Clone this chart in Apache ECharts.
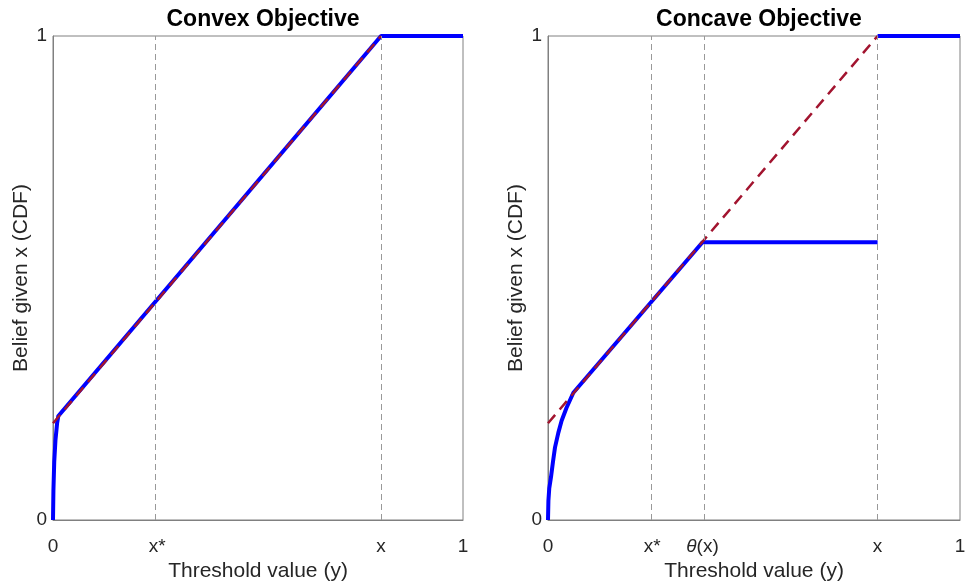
<!DOCTYPE html>
<html><head><meta charset="utf-8">
<script src="https://cdn.jsdelivr.net/npm/echarts@6/dist/echarts.min.js"></script>
<style>html,body{margin:0;padding:0;background:#fff;overflow:hidden}#c{width:965px;height:587px}</style>
</head><body><div id="c"></div>
<script>
// ---- data ----
var titles = ['Convex Objective', 'Concave Objective'];
var xName = 'Threshold value (y)';
var yName = 'Belief given x (CDF)';
// left panel
var leftTickValues = [0, 0.254, 0.8, 1];
var leftTickLabels = ['0', 'x*', 'x', '1'];
var leftVLines = [0.254, 0.8];
var leftBlue = [[0,0],[0.001,0.06],[0.003,0.12],[0.006,0.165],[0.010,0.2],[0.013,0.215],[0.8,1],[1,1]];
var leftRed = [[0,0.2],[0.8,1]];
// right panel
var rightTickValues = [0, 0.253, 0.375, 0.8, 1];
var rightTickLabels = ['0', 'x*', '{i|θ}(x)', 'x', '1'];
var rightVLines = [0.253, 0.375, 0.8];
var rightBlue = [[0,0],[0.001,0.04],[0.003,0.065],[0.0073,0.089],[0.012,0.12],[0.017,0.15],[0.025,0.18],[0.033,0.205],[0.045,0.232],[0.0615,0.263],[0.375,0.574],[0.8,0.574]];
var rightBlueTop = [[0.8,1],[1,1]];
var rightRed = [[0,0.2],[0.8,1]];
var yTickValues = [0, 1];

var FONT = 'Liberation Sans, Arial, sans-serif';
var TXT = '#262626';
var chart = echarts.init(document.getElementById('c'));
function xAx(idx, vals, labels){
  return {type:'value', gridIndex:idx, min:0, max:1, name:xName, nameLocation:'middle', nameGap:37,
    nameTextStyle:{fontFamily:FONT, fontSize:21, color:TXT},
    axisLine:{show:true, lineStyle:{color:'#808080'}}, axisTick:{show:false}, splitLine:{show:false},
    axisLabel:{customValues:vals, margin:17, fontFamily:FONT, fontSize:19, color:TXT,
      formatter:function(v){var k=vals.indexOf(v); return k>=0?labels[k]:'';},
      rich:{i:{fontStyle:'italic', fontFamily:FONT, fontSize:19, color:TXT}}}};
}
function yAx(idx){
  return {type:'value', gridIndex:idx, min:0, max:1, name:yName, nameLocation:'middle', nameGap:21,
    nameTextStyle:{fontFamily:FONT, fontSize:21, color:TXT},
    axisLine:{show:true, lineStyle:{color:'#808080'}}, axisTick:{show:false}, splitLine:{show:false},
    axisLabel:{customValues:yTickValues, margin:6, fontFamily:FONT, fontSize:19, color:TXT}};
}
function vlines(arr){
  return {silent:true, symbol:'none', label:{show:false},
    lineStyle:{type:[6,4], color:'#999', width:1}, data:arr.map(function(v){return {xAxis:v};})};
}
var blueStyle = {color:'#0000ff', width:4};
var redStyle = {color:'#A2142F', width:2.5, type:[11,7]};
chart.setOption({
  animation:false,
  title:[
    {text:titles[0], left:258, top:3, textAlign:'center', textStyle:{fontFamily:FONT, fontSize:23, fontWeight:'bold', color:'#000'}},
    {text:titles[1], left:754, top:3, textAlign:'center', textStyle:{fontFamily:FONT, fontSize:23, fontWeight:'bold', color:'#000'}}
  ],
  grid:[
    {left:53, top:36, width:410, height:484, outerBoundsMode:'none', containLabel:false, show:true, borderColor:'#808080', borderWidth:1, backgroundColor:'#fff'},
    {left:548, top:36, width:412, height:484, outerBoundsMode:'none', containLabel:false, show:true, borderColor:'#808080', borderWidth:1, backgroundColor:'#fff'}
  ],
  xAxis:[xAx(0, leftTickValues, leftTickLabels), xAx(1, rightTickValues, rightTickLabels)],
  yAxis:[yAx(0), yAx(1)],
  series:[
    {type:'line', xAxisIndex:0, yAxisIndex:0, data:[], markLine:vlines(leftVLines)},
    {type:'line', xAxisIndex:0, yAxisIndex:0, data:leftBlue, showSymbol:false, lineStyle:blueStyle, z:3},
    {type:'line', xAxisIndex:0, yAxisIndex:0, data:leftRed, showSymbol:false, lineStyle:redStyle, z:4},
    {type:'line', xAxisIndex:1, yAxisIndex:1, data:[], markLine:vlines(rightVLines)},
    {type:'line', xAxisIndex:1, yAxisIndex:1, data:rightBlue, showSymbol:false, lineStyle:blueStyle, z:3},
    {type:'line', xAxisIndex:1, yAxisIndex:1, data:rightBlueTop, showSymbol:false, lineStyle:blueStyle, z:3},
    {type:'line', xAxisIndex:1, yAxisIndex:1, data:rightRed, showSymbol:false, lineStyle:redStyle, z:4}
  ]
});
</script></body></html>
